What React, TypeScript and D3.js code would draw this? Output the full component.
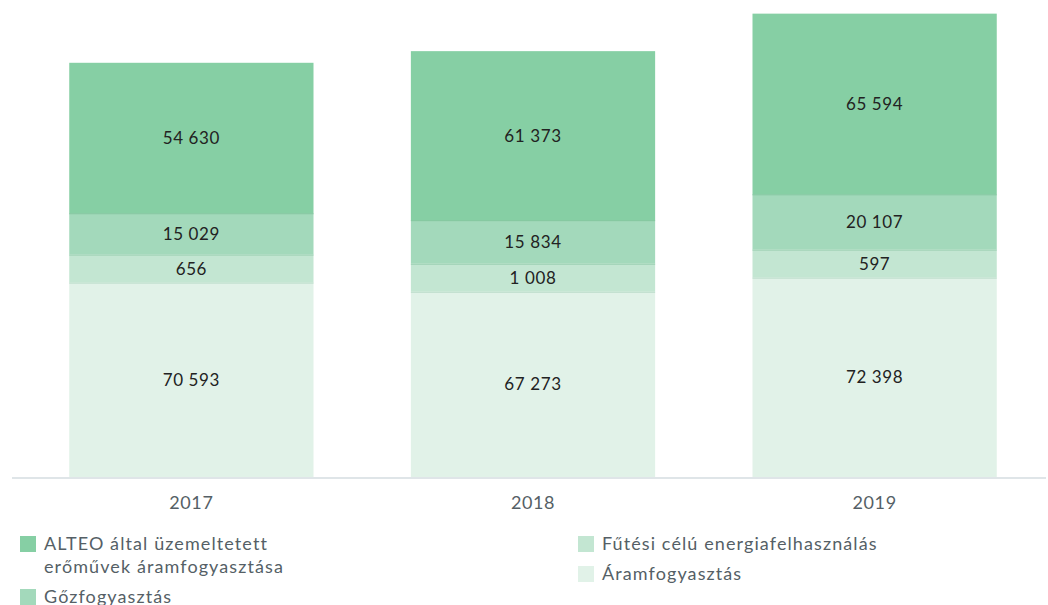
import React, { useRef, useEffect } from 'react';
import * as d3 from 'd3';

// categories and series (bottom to top)
const years = ['2017', '2018', '2019'];
const aramfogyasztas = [70593, 67273, 72398];
const futesi = [656, 1008, 597];
const gozfogyasztas = [15029, 15834, 20107];
const alteo = [54630, 61373, 65594];

const seriesNames = [
  'Áramfogyasztás',
  'Fűtési célú energiafelhasználás',
  'Gőzfogyasztás',
  'ALTEO által üzemeltetett erőművek áramfogyasztása',
];
const seriesColors = ['#e1f2e8', '#c3e6d2', '#a3d9bb', '#86cfa4'];

const fmt = (v: number) => d3.format(',')(v).replace(/,/g, ' ');

const App = () => {
  const svgRef = useRef<SVGSVGElement>(null);
  const width = 1048;
  const height = 605;

  useEffect(() => {
    if (!svgRef.current) return;
    const svg = d3.select(svgRef.current);
    svg.selectAll('*').remove();

    const font = 'Lato, "Open Sans", sans-serif';
    const baseline = 477;
    const minH = 28; // small segments get a minimum height so labels fit

    const allSeries = [aramfogyasztas, futesi, gozfogyasztas, alteo];
    const totals = years.map((_, i) => d3.sum(allSeries, s => s[i]));

    const x = d3.scaleBand<string>()
      .domain(years)
      .range([18, 1048])
      .paddingInner(0.285)
      .paddingOuter(0.15);

    const y = d3.scaleLinear()
      .domain([0, d3.max(totals) as number])
      .range([baseline, 40]);

    const g = svg.append('g');

    years.forEach((yr, i) => {
      let top = baseline;
      allSeries.forEach((s, k) => {
        const h = Math.max(minH, y(0) - y(s[i]));
        const y0 = top - h;
        g.append('rect')
          .attr('x', x(yr) as number)
          .attr('y', y0)
          .attr('width', x.bandwidth())
          .attr('height', h)
          .attr('fill', seriesColors[k]);
        if (k > 0) {
          g.append('line')
            .attr('x1', x(yr) as number)
            .attr('x2', (x(yr) as number) + x.bandwidth())
            .attr('y1', top + 0.5)
            .attr('y2', top + 0.5)
            .attr('stroke', d3.color(seriesColors[k])!.darker(0.12).toString())
            .attr('stroke-width', 1);
        }
        g.append('text')
          .attr('x', (x(yr) as number) + x.bandwidth() / 2)
          .attr('y', y0 + h / 2)
          .attr('dy', '0.35em')
          .attr('text-anchor', 'middle')
          .attr('font-family', font)
          .attr('font-size', 17)
          .attr('letter-spacing', 0.6)
          .attr('fill', '#222')
          .text(fmt(s[i]));
        top = y0;
      });
    });

    // axis line
    g.append('line')
      .attr('x1', 12)
      .attr('x2', 1046)
      .attr('y1', baseline + 1)
      .attr('y2', baseline + 1)
      .attr('stroke', '#d5dde0')
      .attr('stroke-width', 1.5);

    years.forEach(yr => {
      g.append('text')
        .attr('x', (x(yr) as number) + x.bandwidth() / 2)
        .attr('y', 509)
        .attr('text-anchor', 'middle')
        .attr('font-family', font)
        .attr('font-size', 18)
        .attr('letter-spacing', 0.6)
        .attr('fill', '#555f66')
        .text(yr);
    });

    // legend
    const legend = [
      { k: 3, x: 20, y: 536, lines: ['ALTEO által üzemeltetett', 'erőművek áramfogyasztása'] },
      { k: 2, x: 20, y: 589, lines: ['Gőzfogyasztás'] },
      { k: 1, x: 578, y: 536, lines: ['Fűtési célú energiafelhasználás'] },
      { k: 0, x: 578, y: 566, lines: ['Áramfogyasztás'] },
    ];
    legend.forEach(item => {
      g.append('rect')
        .attr('x', item.x)
        .attr('y', item.y)
        .attr('width', 16)
        .attr('height', 16)
        .attr('fill', seriesColors[item.k]);
      item.lines.forEach((ln, j) => {
        g.append('text')
          .attr('x', item.x + 24)
          .attr('y', item.y + 14 + j * 23)
          .attr('font-family', font)
          .attr('font-size', 18)
          .attr('letter-spacing', 1.1)
          .attr('fill', '#555f66')
          .text(ln);
      });
    });
  }, []);

  return (
    <svg
      ref={svgRef}
      width={width}
      height={height}
      style={{ position: 'absolute', left: 0, top: 0, background: '#fff' }}
    />
  );
};

export default App;
